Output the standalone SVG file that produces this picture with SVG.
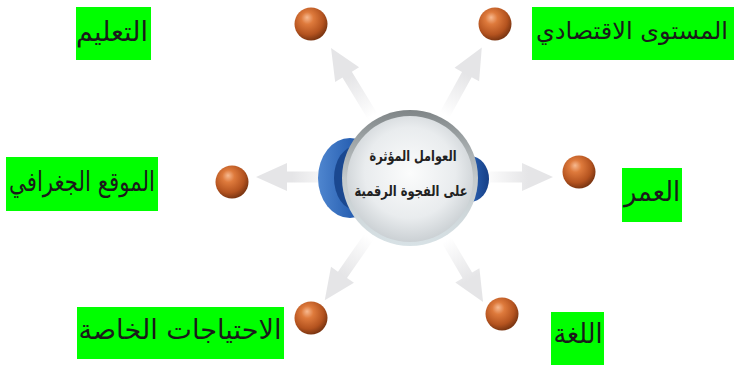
<svg xmlns="http://www.w3.org/2000/svg" width="734" height="365" viewBox="0 0 734 365">
<defs>
<style>
.lbl{fill:#00ff00}
.lt{font-family:"DejaVu Sans","Noto Sans",sans-serif;font-size:27px;fill:#1a1a1a;text-anchor:middle;direction:rtl}
.ct{font-family:"DejaVu Sans","Noto Sans",sans-serif;font-size:15px;font-weight:bold;fill:#222;text-anchor:middle;direction:rtl}
.arr{fill:url(#arrowGrad)}
.ball{fill:url(#ballGrad)}
</style>
<linearGradient id="arrowGrad" gradientUnits="userSpaceOnUse" x1="72" y1="0" x2="118" y2="0">
<stop offset="0" stop-color="#ffffff"/>
<stop offset="1" stop-color="#e5e5e7"/>
</linearGradient>
<radialGradient id="ballGrad" cx="0.42" cy="0.38" r="0.62" fx="0.38" fy="0.3">
<stop offset="0" stop-color="#f7b990"/>
<stop offset="0.3" stop-color="#de7a3c"/>
<stop offset="0.75" stop-color="#b4531f"/>
<stop offset="1" stop-color="#7c3612"/>
</radialGradient>
<linearGradient id="ringGrad" x1="0" y1="0" x2="0" y2="1">
<stop offset="0" stop-color="#7f8587"/>
<stop offset="0.5" stop-color="#c4cacc"/>
<stop offset="1" stop-color="#d8e2e6"/>
</linearGradient>
<radialGradient id="discGrad" cx="0.5" cy="0.45" r="0.6">
<stop offset="0" stop-color="#fbfcfc"/>
<stop offset="0.6" stop-color="#e9ecee"/>
<stop offset="1" stop-color="#c3c9cd"/>
</radialGradient>
<linearGradient id="blueGrad" x1="0" y1="0" x2="1" y2="0">
<stop offset="0" stop-color="#4f86cf"/>
<stop offset="0.5" stop-color="#2a62b4"/>
<stop offset="1" stop-color="#163f86"/>
</linearGradient>
</defs>
<rect width="734" height="365" fill="#ffffff"/>

<g id="connectors">
<polygon class="arr" transform="translate(410,177) rotate(180)" points="72,-5.5 123,-5.5 123,-14 154,0 123,14 123,5.5 72,5.5"/>
<polygon class="arr" transform="translate(410,177)" points="72,-5.5 112,-5.5 112,-14 143,0 112,14 112,5.5 72,5.5"/>
<polygon class="arr" transform="translate(410,178) rotate(-121.3)" points="72,-5.5 121,-5.5 121,-14 152,0 121,14 121,5.5 72,5.5"/>
<polygon class="arr" transform="translate(410,178) rotate(-61.2)" points="72,-5.5 118,-5.5 118,-14 149,0 118,14 118,5.5 72,5.5"/>
<polygon class="arr" transform="translate(410,178) rotate(124.9)" points="72,-5.5 118,-5.5 118,-14 149,0 118,14 118,5.5 72,5.5"/>
<polygon class="arr" transform="translate(410,178) rotate(59.5)" points="72,-5.5 113,-5.5 113,-14 144,0 113,14 113,5.5 72,5.5"/>
</g>

<g id="node-center">
<ellipse cx="350" cy="178" rx="32" ry="40" fill="url(#blueGrad)"/>
<ellipse cx="356" cy="178" rx="22" ry="32" fill="#1a4890"/>
<ellipse cx="470" cy="179" rx="19" ry="23" fill="url(#blueGrad)"/>
<circle cx="410" cy="178" r="68" fill="url(#ringGrad)"/>
<circle cx="410" cy="179" r="63" fill="url(#discGrad)"/>
<text class="ct" x="413" y="161" textLength="87" lengthAdjust="spacingAndGlyphs">العوامل المؤثرة</text>
<text class="ct" x="411" y="196" textLength="113" lengthAdjust="spacingAndGlyphs">على الفجوة الرقمية</text>
</g>

<g id="node-education">
<circle class="ball" cx="311" cy="24" r="16.5"/>
<rect class="lbl" x="76" y="7" width="75" height="53"/>
<text class="lt" x="112" y="41" textLength="72" lengthAdjust="spacingAndGlyphs">التعليم</text>
</g>

<g id="node-economic">
<circle class="ball" cx="495" cy="24" r="16.5"/>
<rect class="lbl" x="532" y="7" width="202" height="53"/>
<text class="lt" x="632" y="39" style="font-size:24px">المستوى الاقتصادي</text>
</g>

<g id="node-geography">
<circle class="ball" cx="232" cy="182" r="16.5"/>
<rect class="lbl" x="6" y="157" width="152" height="54"/>
<text class="lt" x="82" y="191" textLength="146" lengthAdjust="spacingAndGlyphs">الموقع الجغرافي</text>
</g>

<g id="node-age">
<circle class="ball" cx="579" cy="172" r="16.5"/>
<rect class="lbl" x="622" y="168" width="60" height="54"/>
<text class="lt" x="652" y="201" textLength="56" lengthAdjust="spacingAndGlyphs">العمر</text>
</g>

<g id="node-special-needs">
<circle class="ball" cx="311" cy="318" r="16.5"/>
<rect class="lbl" x="77" y="307" width="207" height="52"/>
<text class="lt" x="180" y="339" textLength="203" lengthAdjust="spacingAndGlyphs">الاحتياجات الخاصة</text>
</g>

<g id="node-language">
<circle class="ball" cx="502" cy="314" r="16.5"/>
<rect class="lbl" x="551" y="312" width="53" height="53"/>
<text class="lt" x="578" y="343" textLength="49" lengthAdjust="spacingAndGlyphs">اللغة</text>
</g>
</svg>
